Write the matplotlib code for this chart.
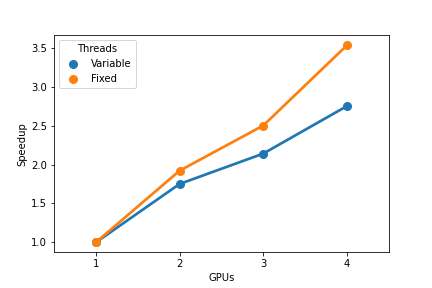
import numpy as np
import matplotlib
matplotlib.use("Agg")
import matplotlib.pyplot as plt
from matplotlib.lines import Line2D

gpus = ["1", "2", "3", "4"]
variable = [1.0, 1.75, 2.14, 2.75]
fixed = [1.0, 1.92, 2.50, 3.53]

fig, ax = plt.subplots(figsize=(6, 4), dpi=72)
fig.subplots_adjust(top=0.877, bottom=0.124)
x = np.arange(len(gpus))

ax.plot(x, variable, color="#1f77b4", lw=2.7, marker="o", ms=8, zorder=3)
ax.plot(x, fixed, color="#ff7f0e", lw=2.7, marker="o", ms=8, zorder=3)

ax.set_xticks(x)
ax.set_xticklabels(gpus)
ax.set_xlim(-0.5, len(gpus) - 0.5)
ax.set_xlabel("GPUs")
ax.set_ylabel("Speedup")

handles = [
    Line2D([], [], color="#1f77b4", marker="o", ls="", ms=8),
    Line2D([], [], color="#ff7f0e", marker="o", ls="", ms=8),
]
ax.legend(handles, ["Variable", "Fixed"], title="Threads", loc="upper left")

fig.savefig("out.png", dpi=72)
